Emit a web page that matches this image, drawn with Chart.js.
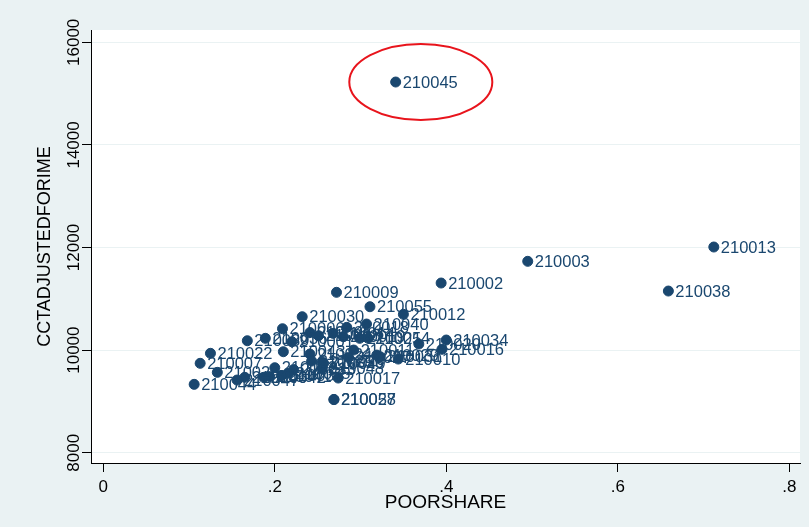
<!DOCTYPE html>
<html>
<head>
<meta charset="utf-8">
<script src="https://cdn.jsdelivr.net/npm/chart.js@4/dist/chart.umd.min.js"></script>
<style>
  html, body { margin: 0; padding: 0; background: #eaf2f3; }
  #wrap { width: 809px; height: 527px; }
</style>
</head>
<body>
<div id="wrap"><canvas id="chart" width="809" height="527"></canvas></div>
<script>
// district ids, share of poor, adjusted CCT
const ids = ['210045', '210013', '210003', '210038', '210002', '210009', '210055', '210012', '210030', '210040',
    '210034', '210016', '210010', '210022', '210007', '210044', '210017', '210057', '210028', '210011',
    '210020', '210006', '210039', '210036', '210043', '210054', '210001', '210005', '210008', '210014',
    '210018', '210019', '210021', '210024', '210025', '210026', '210027', '210029', '210031', '210032',
    '210033', '210035', '210037', '210041', '210042', '210046', '210047', '210023', '210048', '210049'];
const poorShare = [0.341, 0.712, 0.495, 0.659, 0.394, 0.272, 0.311, 0.350, 0.232, 0.307,
    0.400, 0.395, 0.344, 0.125, 0.113, 0.106, 0.274, 0.269, 0.269, 0.292,
    0.368, 0.209, 0.168, 0.189, 0.210, 0.309, 0.220, 0.241, 0.251, 0.268,
    0.284, 0.280, 0.299, 0.241, 0.243, 0.255, 0.286, 0.319, 0.323, 0.200,
    0.222, 0.216, 0.208, 0.194, 0.187, 0.165, 0.156, 0.133, 0.255, 0.257];
const cctAdjusted = [15226, 12010, 11731, 11152, 11308, 11127, 10846, 10698, 10651, 10509,
    10197, 10016, 9826, 9938, 9743, 9333, 9456, 9037, 9037, 10002,
    10119, 10417, 10183, 10230, 9969, 10230, 10164, 10343, 10281, 10327,
    10444, 10261, 10230, 9924, 9787, 9768, 9856, 9904, 9871, 9657,
    9622, 9548, 9505, 9485, 9470, 9470, 9417, 9567, 9641, 9743];
const xTicks = [0, 0.2, 0.4, 0.6, 0.8];
const yTicks = [8000, 10000, 12000, 14000, 16000];
// outlier circled in red
const circle = { x: 0.3703, y: 15226, rx: 0.0834, ry: 741 };

const navy = '#1a476f';
const bg = '#eaf2f3';
const font = '"Liberation Sans", Arial, sans-serif';

var points = poorShare.map(function (v, i) {
    return { x: v, y: cctAdjusted[i] };
});

const plotBg = {
    id: 'plotBg',
    beforeDraw: function (chart) {
        var ctx = chart.ctx, a = chart.chartArea;
        ctx.save();
        ctx.fillStyle = bg;
        ctx.fillRect(0, 0, chart.width, chart.height);
        ctx.fillStyle = '#ffffff';
        ctx.fillRect(a.left, a.top, a.right - a.left, a.bottom - a.top);
        ctx.restore();
    }
};

const pointLabels = {
    id: 'pointLabels',
    afterDatasetsDraw: function (chart) {
        var ctx = chart.ctx;
        var meta = chart.getDatasetMeta(0);
        ctx.save();
        ctx.font = '16.5px ' + font;
        ctx.fillStyle = navy;
        ctx.textAlign = 'left';
        ctx.textBaseline = 'middle';
        meta.data.forEach(function (pt, i) {
            ctx.fillText(ids[i], pt.x + 7, pt.y + 1);
        });
        // red ellipse
        var xs = chart.scales.x, ys = chart.scales.y;
        var cx = xs.getPixelForValue(circle.x), cy = ys.getPixelForValue(circle.y);
        var rx = xs.getPixelForValue(circle.x + circle.rx) - cx;
        var ry = cy - ys.getPixelForValue(circle.y + circle.ry);
        ctx.beginPath();
        ctx.ellipse(cx, cy, rx, ry, 0, 0, Math.PI * 2);
        ctx.strokeStyle = '#e8141c';
        ctx.lineWidth = 2;
        ctx.stroke();
        ctx.restore();
    }
};

new Chart(document.getElementById('chart'), {
    type: 'scatter',
    data: {
        datasets: [{
            data: points,
            backgroundColor: navy,
            borderColor: navy,
            pointRadius: 5,
            pointHoverRadius: 5
        }]
    },
    options: {
        responsive: false,
        animation: false,
        events: [],
        layout: { padding: { left: 0, top: 30, right: 9, bottom: 0 } },
        plugins: { legend: { display: false }, tooltip: { enabled: false } },
        scales: {
            x: {
                type: 'linear',
                min: -0.0143,
                max: 0.8125,
                afterBuildTicks: function (s) { s.ticks = xTicks.map(function (v) { return { value: v }; }); },
                afterFit: function (s) { s.height = 64; },
                border: { display: true, color: '#000', width: 1 },
                grid: { drawOnChartArea: false, tickColor: '#000', tickLength: 9 },
                ticks: {
                    color: '#000',
                    padding: 5,
                    maxRotation: 0,
                    font: { family: font, size: 17 },
                    callback: function (v) { return v === 0 ? '0' : String(+v.toFixed(1)).replace(/^0/, ''); }
                },
                title: {
                    display: true,
                    text: 'POORSHARE',
                    color: '#000',
                    padding: { top: 0, bottom: 13 },
                    font: { family: font, size: 19 }
                }
            },
            y: {
                type: 'linear',
                min: 7800,
                max: 16240,
                afterBuildTicks: function (s) { s.ticks = yTicks.map(function (v) { return { value: v }; }); },
                afterFit: function (s) { s.width = 91; },
                border: { display: true, color: '#000', width: 1 },
                grid: { color: bg, lineWidth: 1, tickColor: '#000', tickLength: 9 },
                ticks: {
                    color: '#000',
                    padding: -16,
                    minRotation: 90,
                    maxRotation: 90,
                    crossAlign: 'center',
                    font: { family: font, size: 17 },
                    callback: function (v) { return String(v); }
                },
                title: {
                    display: true,
                    text: 'CCTADJUSTEDFORIME',
                    color: '#000',
                    padding: { top: 34, bottom: 0 },
                    font: { family: font, size: 18 }
                }
            }
        }
    },
    plugins: [plotBg, pointLabels]
});
</script>
</body>
</html>
